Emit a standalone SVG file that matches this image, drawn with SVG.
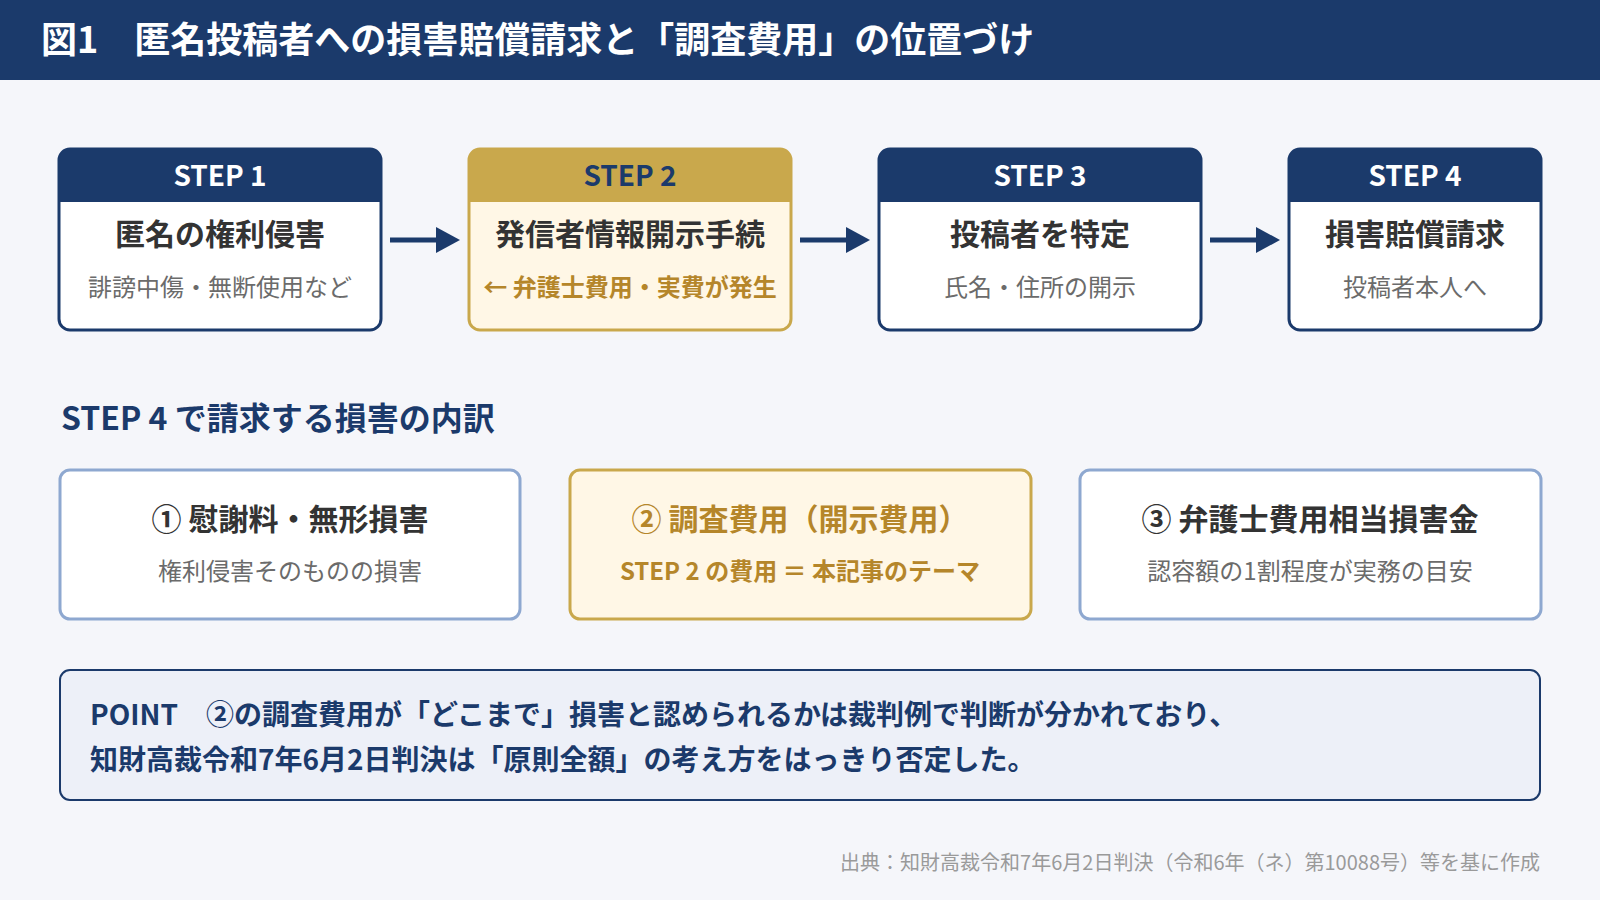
<svg xmlns="http://www.w3.org/2000/svg" width="1600" height="900" viewBox="0 0 1600 900">
<defs>
<style>
text{font-family:"Noto Sans CJK JP","Noto Sans",sans-serif;}
.hd{font-size:28px;font-weight:700;text-anchor:middle;fill:#fff;}
.st{font-size:30px;font-weight:700;text-anchor:middle;fill:#333;}
.ss{font-size:24px;text-anchor:middle;fill:#6b6b6b;}
.box{fill:#fff;stroke:#1b3a6b;stroke-width:3;}
.dbox{fill:#fff;stroke:#8ea8d0;stroke-width:3;}
.gold{fill:#fff7e6;stroke:#c9a84c;stroke-width:3;}
.arr{stroke:#1b3a6b;stroke-width:5;fill:none;}
.ah{fill:#1b3a6b;}
</style>
</defs>
<rect width="1600" height="900" fill="#f5f6fa"/>
<rect width="1600" height="80" fill="#1b3a6b"/>
<text x="41" y="53" style="font-size:36px;font-weight:700;fill:#fff;">図1　匿名投稿者への損害賠償請求と「調査費用」の位置づけ</text>

<g id="step1">
<rect class="box" x="59" y="149" width="322" height="181" rx="11"/>
<path d="M59,160 a11,11 0 0 1 11,-11 h300 a11,11 0 0 1 11,11 v42 h-322 z" fill="#1b3a6b"/>
<text class="hd" x="220" y="186">STEP 1</text>
<text class="st" x="220" y="245">匿名の権利侵害</text>
<text class="ss" x="220" y="296">誹謗中傷・無断使用など</text>
</g>
<g id="step2">
<rect class="gold" x="469" y="149" width="322" height="181" rx="11"/>
<path d="M469,160 a11,11 0 0 1 11,-11 h300 a11,11 0 0 1 11,11 v42 h-322 z" fill="#c9a84c"/>
<text class="hd" x="630" y="186" style="fill:#1b3a6b">STEP 2</text>
<text class="st" x="630" y="245">発信者情報開示手続</text>
<text class="ss" x="630" y="296" style="fill:#b5862a;font-weight:700">← 弁護士費用・実費が発生</text>
</g>
<g id="step3">
<rect class="box" x="879" y="149" width="322" height="181" rx="11"/>
<path d="M879,160 a11,11 0 0 1 11,-11 h300 a11,11 0 0 1 11,11 v42 h-322 z" fill="#1b3a6b"/>
<text class="hd" x="1040" y="186">STEP 3</text>
<text class="st" x="1040" y="245">投稿者を特定</text>
<text class="ss" x="1040" y="296">氏名・住所の開示</text>
</g>
<g id="step4">
<rect class="box" x="1289" y="149" width="252" height="181" rx="11"/>
<path d="M1289,160 a11,11 0 0 1 11,-11 h230 a11,11 0 0 1 11,11 v42 h-252 z" fill="#1b3a6b"/>
<text class="hd" x="1415" y="186">STEP 4</text>
<text class="st" x="1415" y="245">損害賠償請求</text>
<text class="ss" x="1415" y="296">投稿者本人へ</text>
</g>

<g id="connectors">
<line class="arr" x1="390" y1="240" x2="440" y2="240"/>
<polygon class="ah" points="436,227 460,240 436,253"/>
<line class="arr" x1="800" y1="240" x2="850" y2="240"/>
<polygon class="ah" points="846,227 870,240 846,253"/>
<line class="arr" x1="1210" y1="240" x2="1260" y2="240"/>
<polygon class="ah" points="1256,227 1280,240 1256,253"/>
</g>

<text x="61" y="430" style="font-size:32px;font-weight:700;fill:#1b3a6b;">STEP 4 で請求する損害の内訳</text>

<g id="damage1">
<rect class="dbox" x="60" y="470" width="460" height="149" rx="10"/>
<text class="st" x="290" y="530">① 慰謝料・無形損害</text>
<text class="ss" x="290" y="580">権利侵害そのものの損害</text>
</g>
<g id="damage2">
<rect class="gold" x="570" y="470" width="461" height="149" rx="10"/>
<text class="st" x="800" y="530" style="fill:#b5862a">② 調査費用（開示費用）</text>
<text class="ss" x="800" y="580" style="fill:#b5862a;font-weight:700">STEP 2 の費用 ＝ 本記事のテーマ</text>
</g>
<g id="damage3">
<rect class="dbox" x="1080" y="470" width="461" height="149" rx="10"/>
<text class="st" x="1310" y="530">③ 弁護士費用相当損害金</text>
<text class="ss" x="1310" y="580">認容額の1割程度が実務の目安</text>
</g>

<g id="point">
<rect x="60" y="670" width="1480" height="130" rx="10" fill="#edf0f8" stroke="#1b3a6b" stroke-width="2"/>
<text x="90" y="725" style="font-size:28px;font-weight:700;fill:#1b3a6b;">POINT　②の調査費用が「どこまで」損害と認められるかは裁判例で判断が分かれており、</text>
<text x="90" y="770" style="font-size:28px;font-weight:700;fill:#1b3a6b;">知財高裁令和7年6月2日判決は「原則全額」の考え方をはっきり否定した。</text>
</g>

<text x="1540" y="870" style="font-size:20px;fill:#9a9a9a;text-anchor:end;">出典：知財高裁令和7年6月2日判決（令和6年（ネ）第10088号）等を基に作成</text>
</svg>
